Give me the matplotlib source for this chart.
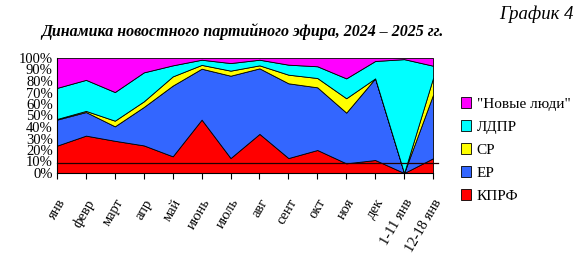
import matplotlib
matplotlib.use("Agg")
import matplotlib.pyplot as plt
import matplotlib.transforms as mtransforms
import numpy as np
from matplotlib.patches import Patch

months = ["янв", "февр", "март", "апр", "май", "июнь", "июль", "авг", "сент",
          "окт", "ноя", "дек", "1-11 янв", "12-18 янв"]
kprf = [23.8, 32.5, 28.0, 24.0, 14.5, 46.4, 13.0, 34.0, 13.0, 20.0, 8.4, 11.3, 0.0, 12.8]
er   = [22.6, 20.5, 12.6, 33.4, 61.5, 44.3, 71.6, 57.0, 65.0, 54.5, 44.1, 71.0, 0.0, 55.2]
sr   = [0.6, 1.0, 4.9, 4.9, 8.0, 3.3, 4.4, 2.6, 7.5, 8.1, 12.5, 0.0, 0.0, 14.6]
ldpr = [27.0, 27.0, 24.9, 25.2, 9.6, 4.5, 6.6, 4.9, 8.7, 10.2, 17.3, 15.1, 99.0, 10.7]
nl   = [26.0, 19.0, 29.6, 12.5, 6.4, 1.5, 4.4, 1.5, 5.8, 7.2, 17.7, 2.6, 1.0, 6.7]
ref_line = 8.7

colors = ["#FF0000", "#3366FF", "#FFFF00", "#00FFFF", "#FF00FF"]
names = ["КПРФ", "ЕР", "СР", "ЛДПР", '"Новые люди"']

plt.rcParams['font.family'] = ['Liberation Serif', 'DejaVu Serif']

fig = plt.figure(figsize=(5.82, 2.70), dpi=100)
ax = fig.add_axes([57/582, 1-173/270, (433-57)/582, (173-58)/270])
x = np.arange(len(months))
ax.stackplot(x, kprf, er, sr, ldpr, nl, colors=colors, edgecolor="#000000", linewidth=0.6)
ax.plot([0, 1.012], [ref_line, ref_line], color="#200000", linewidth=0.9,
        transform=ax.get_yaxis_transform(), clip_on=False)
ax.set_xlim(0, len(months)-1)
ax.set_ylim(0, 100)
ax.set_yticks(range(0, 101, 10))
ax.set_yticklabels([f"{v}%" for v in range(0, 101, 10)], fontsize=10.5)
ax.set_xticks(x)
ax.set_xticklabels(months, rotation=60, ha="right", va="top", fontsize=10.5, rotation_mode="anchor")
offset = mtransforms.ScaledTranslation(-4/100, 0, fig.dpi_scale_trans)
for lbl in ax.get_xticklabels():
    lbl.set_transform(lbl.get_transform() + offset)
ax.tick_params(axis="x", length=4, width=0.8, direction="out", pad=13)
ax.tick_params(axis="y", length=0, pad=3)
for s in ["top", "right"]:
    ax.spines[s].set_visible(False)
for s in ["left", "bottom"]:
    ax.spines[s].set_linewidth(0.8)

handles = [Patch(facecolor=c, edgecolor="black", linewidth=0.6) for c in colors[::-1]]
fig.legend(handles, names[::-1], loc="center left", bbox_to_anchor=(447/582, 1-150/270),
           frameon=False, fontsize=11, handlelength=0.7, handleheight=0.7,
           handletextpad=0.35, labelspacing=0.62)

fig.text(242/582, 1-32/270, "Динамика новостного партийного эфира, 2024 – 2025 гг.",
         ha="center", va="center", fontsize=11.5, fontweight="bold", fontstyle="italic")
fig.text(574/582, 1-14/270, "График 4", ha="right", va="center", fontsize=13.5, fontstyle="italic")

fig.savefig("out.png", dpi=100)
